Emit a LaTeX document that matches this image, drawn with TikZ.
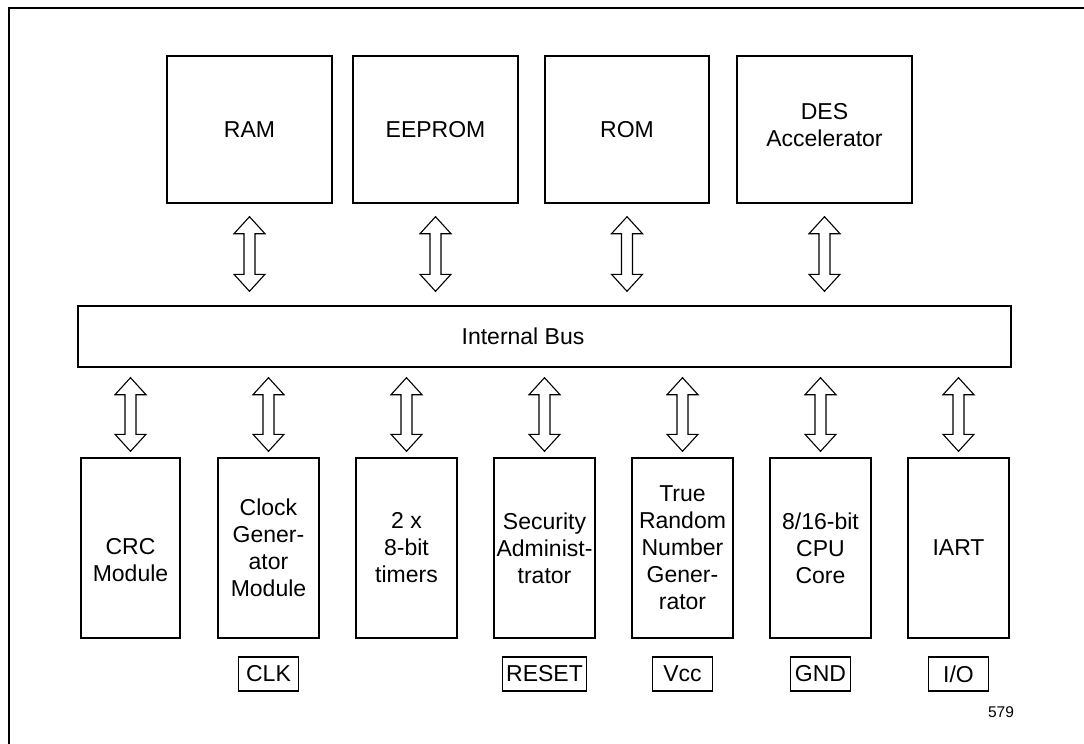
\documentclass[tikz,border=0pt]{standalone}
\usepackage{fontspec}
\setmainfont{Liberation Sans}
\usetikzlibrary{calc}
\tikzset{
  blk/.style={draw=black, line width=1.4pt, inner sep=0pt, align=center,
    font=\fontsize{23}{27}\selectfont},
  txt/.style={inner sep=0pt, align=center, font=\fontsize{23}{27}\selectfont},
  pin/.style={draw=black, line width=1.3pt, inner xsep=2pt, inner ysep=0pt,
    minimum width=60pt, minimum height=34pt, font=\fontsize{23}{27}\selectfont},
  fat/.style={draw=black, line width=1.1pt, fill=white, line join=miter},
  frame/.style={draw=black, line width=2.4pt}
}
% #1 node giving x, #2 anchor giving top y, #3 anchor giving bottom y, #4 top gap, #5 bottom gap
\newcommand\fatarrow[5]{%
  \draw[fat] let \p1=(#1), \p2=(#2), \p3=(#3),
    \n1={\y2-#4}, \n2={\y3+#5} in
    (\x1,\n1) -- (\x1+15.5pt,\n1-17pt) -- (\x1+5.5pt,\n1-17pt)
    -- (\x1+5.5pt,\n2+17pt) -- (\x1+15.5pt,\n2+17pt) -- (\x1,\n2)
    -- (\x1-15.5pt,\n2+17pt) -- (\x1-5.5pt,\n2+17pt)
    -- (\x1-5.5pt,\n1-17pt) -- (\x1-15.5pt,\n1-17pt) -- cycle;}
\begin{document}
\begin{tikzpicture}[x=1pt,y=-1pt]
\useasboundingbox (0,0) rectangle (1084,744);
\draw[frame] (9,750) -- (9,8) -- (1090,8);

% top blocks
\node[blk, minimum width=165pt, minimum height=147pt] (ram) at (249.5,129.5) {RAM};
\node[blk, minimum width=165pt, minimum height=147pt] (eeprom) at (435.5,129.5) {EEPROM};
\node[blk, minimum width=164pt, minimum height=147pt] (rom) at (627,129.5) {ROM};
\node[blk, minimum width=175pt, minimum height=147pt] (des) at (824.5,129.5) {};
\node[txt] (dest) at (824.5,125) {DES\\Accelerator};

% bus
\node[blk, minimum width=933pt, minimum height=61pt] (bus) at (544.5,336.5) {};
\node[txt] (bust) at (523,336.5) {Internal Bus};

% bottom blocks
\node[blk, minimum width=99pt, minimum height=180pt] (crc) at (130.5,548) {};
\node[txt] (crct) at (130.5,560) {CRC\\Module};
\node[blk, minimum width=101pt, minimum height=180pt] (clk) at (268.5,548) {Clock\\Gener-\\ator\\Module};
\node[blk, minimum width=101pt, minimum height=180pt] (tim) at (406.5,548) {2 x\\8-bit\\timers};
\node[blk, minimum width=101pt, minimum height=180pt] (sec) at (544.5,548) {Security\\Administ-\\trator};
\node[blk, minimum width=101pt, minimum height=180pt] (trng) at (682.5,548) {True\\Random\\Number\\Gener-\\rator};
\node[blk, minimum width=101pt, minimum height=180pt] (cpu) at (820.5,548) {8/16-bit\\CPU\\Core};
\node[blk, minimum width=101pt, minimum height=180pt] (iart) at (958.5,548) {IART};

% pins
\node[pin] (pclk) at (268.5,674) {CLK};
\node[pin, minimum width=84pt] (preset) at (544.5,674) {RESET};
\node[pin] (pvcc) at (682.5,674) {Vcc};
\node[pin] (pgnd) at (820.5,674) {GND};
\node[pin] (pio) at (958.5,674) {I/O};

\node[font=\fontsize{15.5}{18}\selectfont] (num) at (1001,712) {579};

% arrows top
\fatarrow{ram.south}{ram.south}{bus.north}{13pt}{14pt}
\fatarrow{eeprom.south}{eeprom.south}{bus.north}{13pt}{14pt}
\fatarrow{rom.south}{rom.south}{bus.north}{13pt}{14pt}
\fatarrow{des.south}{des.south}{bus.north}{13pt}{14pt}
% arrows bottom
\fatarrow{crc.north}{bus.south}{crc.north}{10pt}{6pt}
\fatarrow{clk.north}{bus.south}{clk.north}{10pt}{6pt}
\fatarrow{tim.north}{bus.south}{tim.north}{10pt}{6pt}
\fatarrow{sec.north}{bus.south}{sec.north}{10pt}{6pt}
\fatarrow{trng.north}{bus.south}{trng.north}{10pt}{6pt}
\fatarrow{cpu.north}{bus.south}{cpu.north}{10pt}{6pt}
\fatarrow{iart.north}{bus.south}{iart.north}{10pt}{6pt}
\end{tikzpicture}
\end{document}
